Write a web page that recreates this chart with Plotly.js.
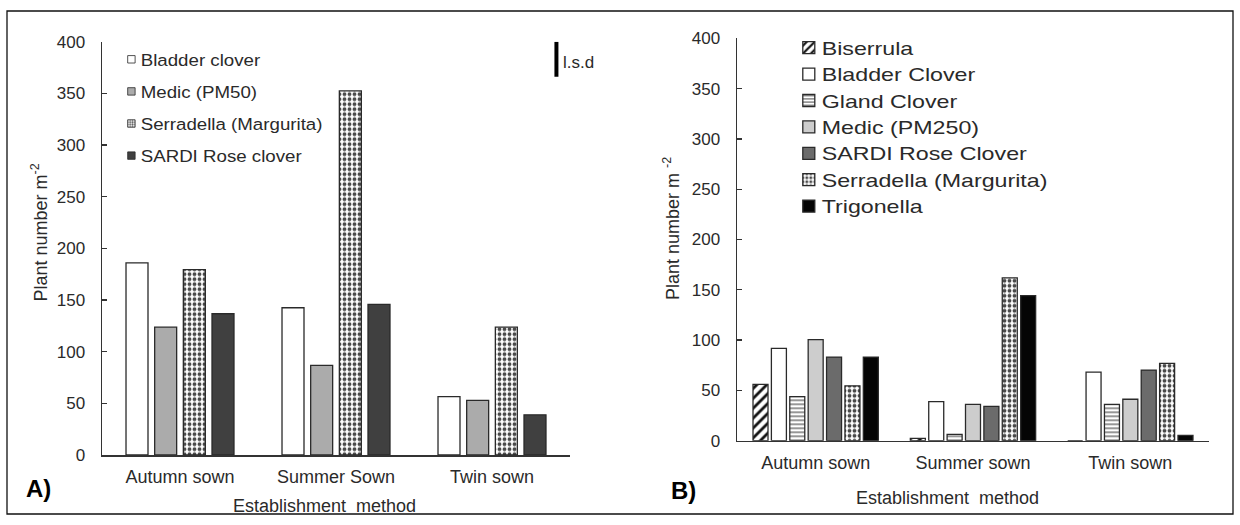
<!DOCTYPE html>
<html><head><meta charset="utf-8">
<script src="https://cdn.plot.ly/plotly-3.0.1.min.js"></script>
<style>
html,body{margin:0;padding:0;background:#fff;}
#chart{width:1240px;height:525px;}
.scrollbox{clip-path:none !important;}
</style></head><body><div id="chart"></div>
<script>
// ---------- Data: panel A ----------
const categoriesA = ['Autumn sown', 'Summer Sown', 'Twin sown'];
const seriesNamesA = ['Bladder clover', 'Medic (PM50)', 'Serradella (Margurita)', 'SARDI Rose clover'];
const bladderA = [186, 142.5, 56.4];
const medicA = [123.7, 86.8, 52.8];
const serradellaA = [179.4, 352.4, 123.7];
const sardiA = [136.7, 145.7, 38.9];
const lsdA = 34;
const yTicksA = [0, 50, 100, 150, 200, 250, 300, 350, 400];

// ---------- Data: panel B ----------
const categoriesB = ['Autumn sown', 'Summer sown', 'Twin sown'];
const seriesNamesB = ['Biserrula', 'Bladder Clover', 'Gland Clover', 'Medic (PM250)', 'SARDI Rose Clover', 'Serradella (Margurita)', 'Trigonella'];
const biserrulaB = [55.9, 2.3, 0];
const bladderB = [91.8, 38.9, 68.2];
const glandB = [43.9, 6.3, 36.2];
const medicB = [100.4, 36.2, 41.2];
const sardiB = [83.1, 34.2, 70.2];
const serradellaB = [54.5, 161.9, 76.8];
const trigonellaB = [83.1, 144.3, 5.3];
const yTicksB = [0, 50, 100, 150, 200, 250, 300, 350, 400];

// ---------- Styles ----------
const FONT = 'Liberation Sans, Arial, sans-serif';
const TXT = '#2a2a2a';
const AX = '#333333';
const OUTLINE = '#2a2a2a';
const checker = {shape: '.', fgcolor: '#4a4a4a', bgcolor: '#ffffff', size: 5, solidity: 0.45};
const stylesA = [
  {color: '#ffffff'},
  {color: '#ababab'},
  {color: '#ffffff', pattern: checker},
  {color: '#404040'}
];
const stylesB = [
  {color: '#ffffff', pattern: {shape: '/', fgcolor: '#111111', bgcolor: '#ffffff', size: 7, solidity: 0.4}},
  {color: '#ffffff'},
  {color: '#ffffff', pattern: {shape: '-', fgcolor: '#6a6a6a', bgcolor: '#ffffff', size: 4, solidity: 0.35}},
  {color: '#cdcdcd'},
  {color: '#6b6b6b'},
  {color: '#ffffff', pattern: checker},
  {color: '#050505'}
];

function geom(n, gap, groupgap) {
  const slot = (1 - gap) / n;
  const out = [];
  for (let i = 0; i < n; i++) {
    out.push({offset: -(1 - gap) / 2 + i * slot + slot * groupgap / 2, width: slot * (1 - groupgap)});
  }
  return out;
}

const valuesA = [bladderA, medicA, serradellaA, sardiA];
const valuesB = [biserrulaB, bladderB, glandB, medicB, sardiB, serradellaB, trigonellaB];
const gA = geom(valuesA.length, 0.265, 0.233);
const gB = geom(valuesB.length, 0.182, 0.184);

const traces = [];
valuesA.forEach((vals, i) => {
  const m = {color: stylesA[i].color, line: {color: OUTLINE, width: 1.3}};
  if (stylesA[i].pattern) m.pattern = stylesA[i].pattern;
  traces.push({
    type: 'bar', name: seriesNamesA[i], x: categoriesA, y: vals,
    xaxis: 'x', yaxis: 'y', legend: 'legend', legendgroup: 'a' + i,
    offset: gA[i].offset, width: gA[i].width, marker: m, hoverinfo: 'x+y+name'
  });
});
valuesB.forEach((vals, i) => {
  const m = {color: stylesB[i].color, line: {color: OUTLINE, width: 1.3}};
  if (stylesB[i].pattern) m.pattern = stylesB[i].pattern;
  traces.push({
    type: 'bar', name: seriesNamesB[i], x: categoriesB, y: vals,
    xaxis: 'x2', yaxis: 'y2', legend: 'legend2', legendgroup: 'b' + i,
    offset: gB[i].offset, width: gB[i].width, marker: m, hoverinfo: 'x+y+name'
  });
});

const W = 1240, H = 525;
const px = v => v / W;
const py = v => 1 - v / H;

function xax(domain) {
  return {domain: domain, type: 'category', range: [-0.5, 2.5], showline: true, linecolor: AX, linewidth: 1.5,
    ticks: '', showgrid: false, zeroline: false, fixedrange: true, ticklabelstandoff: 5,
    tickfont: {family: FONT, size: 18, color: TXT}};
}
function yax(domain, ticks) {
  return {domain: domain, range: [0, 400], tickvals: ticks, ticktext: ticks.map(String), showline: true, linecolor: AX, linewidth: 1.5,
    ticks: 'inside', ticklen: 5, tickwidth: 1.3, tickcolor: AX, showgrid: false, zeroline: false, fixedrange: true,
    ticklabelstandoff: 12, tickfont: {family: FONT, size: 17, color: TXT}};
}

const xa = xax([px(102), px(570)]); xa.anchor = 'y';
const ya = yax([py(455), py(41.7)], yTicksA); ya.anchor = 'x';
const xb = xax([px(737), px(1209)]); xb.anchor = 'y2';
const yb = yax([py(440.7), py(38.3)], yTicksB); yb.anchor = 'x2';

const layout = {
  width: W, height: H, margin: {l: 0, r: 0, t: 0, b: 0},
  paper_bgcolor: '#ffffff', plot_bgcolor: 'rgba(0,0,0,0)',
  font: {family: FONT, color: TXT},
  barmode: 'overlay', showlegend: true,
  xaxis: xa, yaxis: ya, xaxis2: xb, yaxis2: yb,
  legend: {x: px(100.7), xanchor: 'left', y: py(41.75), yanchor: 'top', bgcolor: 'rgba(0,0,0,0)', borderwidth: 0,
    font: {family: FONT, size: 17, color: TXT}, tracegroupgap: 7, traceorder: 'grouped'},
  legend2: {x: px(781.7), xanchor: 'left', y: py(29.5), yanchor: 'top', bgcolor: 'rgba(0,0,0,0)', borderwidth: 0,
    font: {family: FONT, size: 18, color: TXT}, tracegroupgap: 0, traceorder: 'grouped'},
  shapes: [
    {type: 'rect', xref: 'paper', yref: 'paper', x0: px(7), x1: px(1233), y0: py(514), y1: py(11), line: {color: '#111', width: 1.3}},
    {type: 'line', xref: 'x domain', yref: 'y', x0: 0.971, x1: 0.971, y0: 400 - lsdA, y1: 400, line: {color: '#000', width: 4}}
  ],
  annotations: [
    {text: 'l.s.d', xref: 'paper', yref: 'paper', x: px(560.5), y: py(62), xanchor: 'left', yanchor: 'middle', showarrow: false, font: {family: FONT, size: 17, color: TXT}},
    {text: 'Plant number m<sup>-2</sup>', xref: 'paper', yref: 'paper', x: px(39.5), y: py(233), xanchor: 'center', yanchor: 'middle', textangle: -90, showarrow: false, font: {family: FONT, size: 18, color: TXT}},
    {text: 'Plant number m <sup>-2</sup>', xref: 'paper', yref: 'paper', x: px(671), y: py(229), xanchor: 'center', yanchor: 'middle', textangle: -90, showarrow: false, font: {family: FONT, size: 18, color: TXT}},
    {text: 'Establishment  method', xref: 'paper', yref: 'paper', x: px(324.7), y: py(506), xanchor: 'center', yanchor: 'middle', showarrow: false, font: {family: FONT, size: 18, color: TXT}},
    {text: 'Establishment  method', xref: 'paper', yref: 'paper', x: px(947), y: py(498), xanchor: 'center', yanchor: 'middle', showarrow: false, font: {family: FONT, size: 18, color: TXT}},
    {text: '<b>A)</b>', xref: 'paper', yref: 'paper', x: px(38), y: py(488), xanchor: 'center', yanchor: 'middle', showarrow: false, font: {family: FONT, size: 24, color: '#000'}},
    {text: '<b>B)</b>', xref: 'paper', yref: 'paper', x: px(683), y: py(490), xanchor: 'center', yanchor: 'middle', showarrow: false, font: {family: FONT, size: 24, color: '#000'}}
  ]
};

const gd = document.getElementById('chart');
const LEGEND_TEXT = 'text.legendtext, text.legend2text';

// widen legend lettering and place the swatches like the reference figure
function legendRoot(el) {
  let r = el;
  while (r.parentNode && r.parentNode !== gd &&
         !(r.parentNode.classList && r.parentNode.classList.contains('infolayer'))) {
    r = r.parentNode;
  }
  return r;
}
function fixLegends() {
  gd.querySelectorAll(LEGEND_TEXT).forEach(t => {
    const root = legendRoot(t);
    const count = root.querySelectorAll(LEGEND_TEXT).length;
    const isLeft = count === seriesNamesA.length;
    const k = isLeft ? 1.1 : 1.29;
    const x0 = parseFloat(t.getAttribute('x')) || 0;
    const tr = 'translate(' + x0 + ',0) scale(' + k + ',1) translate(' + (-x0) + ',0)';
    if (t.getAttribute('transform') !== tr) t.setAttribute('transform', tr);
    const item = t.parentNode;
    const p = item.querySelector('path.legendbar') || item.querySelector('path');
    if (p) {
      const gap = isLeft ? 9.3 : 12.9;
      const s = isLeft ? 0.62 : 1.0;
      const pt = 'translate(' + (x0 - gap) + ',0) scale(' + s + ')';
      if (p.getAttribute('transform') !== pt) p.setAttribute('transform', pt);
    }
  });
}
const obs = new MutationObserver(fixLegends);
obs.observe(gd, {childList: true, subtree: true});

Plotly.newPlot(gd, traces, layout, {displayModeBar: false, staticPlot: true}).then(() => {
  fixLegends();
  gd.on('plotly_afterplot', fixLegends);
});
</script></body></html>
